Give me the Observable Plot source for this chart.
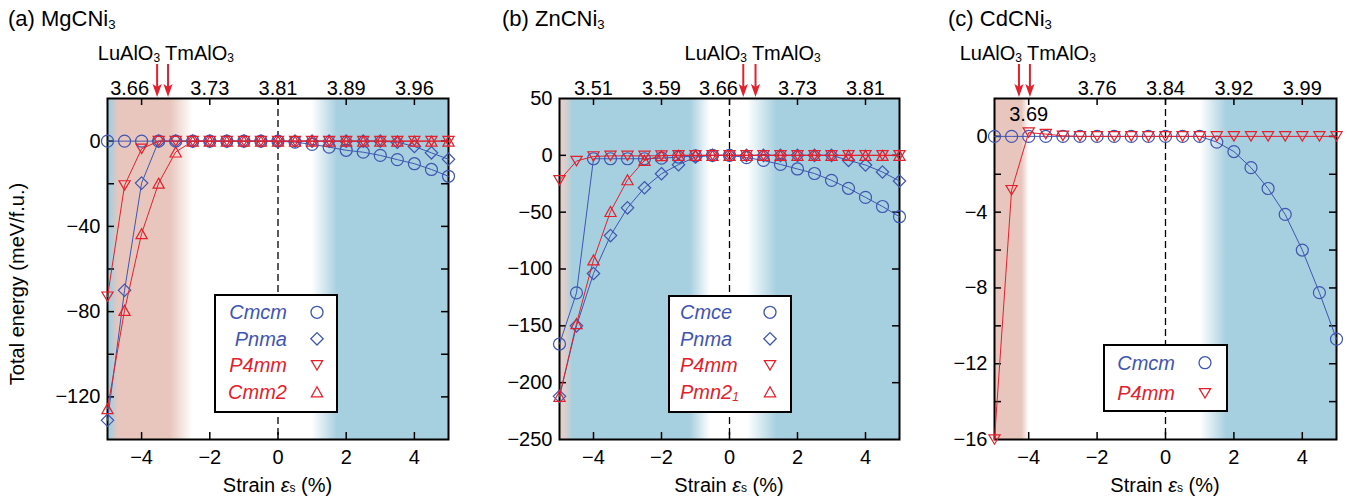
<!DOCTYPE html>
<html>
<head>
<meta charset="utf-8">
<script src="https://cdn.jsdelivr.net/npm/d3@7"></script>
<script src="https://cdn.jsdelivr.net/npm/@observablehq/plot@0.6"></script>
<style>
  body { margin: 0; background: #fff; }
  #chart { position: relative; width: 1347px; height: 498px; background: #fff; }
  #chart svg { position: absolute; top: 0; overflow: visible; }
</style>
</head>
<body>
<div id="chart"></div>
<script>
// Strain grid (%), shared by all three compounds
const strain = [-5, -4.5, -4, -3.5, -3, -2.5, -2, -1.5, -1, -0.5, 0, 0.5, 1, 1.5, 2, 2.5, 3, 3.5, 4, 4.5, 5];

// (a) MgCNi3 total energies (meV/f.u.)
const mgCmcm = [0, 0, 0, 0, 0, 0, 0, 0, 0, 0, 0, -0.5, -1.5, -2.8, -4.3, -5.2, -6.7, -8.7, -10.6, -13.3, -16.5];
const mgPnma = [-131, -70, -19.7, 0, 0, 0, 0, 0, 0, 0, 0, 0, 0, 0, 0, 0, 0, -0.5, -2.5, -5.5, -8.5];
const mgP4mm = [-73, -20.8, -3.6, 0, 0, 0, 0, 0, 0, 0, 0, 0, 0, 0, 0, 0, 0, 0, 0, 0, 0];
const mgCmm2 = [-125.5, -79.4, -43.4, -19.7, -5.1, 0, 0, 0, 0, 0, 0, 0, 0, 0, 0, 0, 0, 0, 0, 0, 0];

// (b) ZnCNi3 total energies (meV/f.u.)
const znCmce = [-166, -121, -3, -3, -3, -3, -2.5, -1.5, -0.5, 0, 0, -2, -4.5, -8, -12, -16, -22, -29, -37, -45, -54];
const znPnma = [-212, -150, -104, -70.6, -46.2, -28.5, -16.2, -8.2, -1.5, 0, 0, 0, 0, 0, 0, 0, 0, -4.4, -8.5, -14.7, -22.6];
const znP4mm = [-22, -5, -1, -0.5, -0.5, -0.5, -0.3, 0, 0, 0, 0, 0, 0, 0, 0, 0, 0, 0, 0, 0, 0];
const znPmn21 = [-212, -148, -92, -49.4, -21.5, -4.4, -0.3, 0, 0, 0, 0, 0, 0, 0, 0, 0, 0, 0, 0, 0, 0];

// (c) CdCNi3 total energies (meV/f.u.)
const cdCmcm = [0, 0, 0, 0, 0, 0, 0, 0, 0, 0, 0, 0, 0, -0.3, -0.8, -1.65, -2.75, -4.12, -6.0, -8.25, -10.7];
const cdP4mm = [-16, -2.84, 0.2, 0.12, 0.03, 0, 0, 0, 0, 0, 0, 0, 0, 0, 0, 0, 0, 0, 0, 0, 0];

// Axis ticks and labels (top axis: lattice parameter in Å)
const xTicks = [-4, -2, 0, 2, 4];
const topLabelsA = ["3.66", "3.73", "3.81", "3.89", "3.96"];
const topLabelsB = ["3.51", "3.59", "3.66", "3.73", "3.81"];
const topLabelsC = ["3.69", "3.76", "3.84", "3.92", "3.99"];
const yLabelsA = [0, -40, -80, -120];
const yTicksA = [0, -20, -40, -60, -80, -100, -120];
const yLabelsB = [50, 0, -50, -100, -150, -200, -250];
const yTicksB = [0, -50, -100, -150, -200];
const yLabelsC = [0, -4, -8, -12, -16];
const yTicksC = [0, -2, -4, -6, -8, -10, -12, -14];

// Substrate strains (%) for LuAlO3 and TmAlO3
const substratesA = [-3.53, -3.21];
const substratesB = [0.42, 0.78];
const substratesC = [-4.27, -3.95];

const FONT = '"Liberation Sans", Arial, Helvetica, sans-serif';
const BLUE = "#3f56b0";
const RED = "#e4202c";
const SKY = "#a6cfdf";
const ROSE = "#e8c6bd";
const GREYROSE = "#e0cfcb";
const WHITE = "#ffffff";

const H = 498, MT = 98, MB = 59;

const fmt = (d) => (d < 0 ? "\u2212" + Math.abs(d) : String(d));

// Hollow marker shapes
const unit = (size) => Math.sqrt(size / Math.PI) / 6;
const symCircle = { draw(c, size) { const r = 6 * unit(size); c.moveTo(r, 0); c.arc(0, 0, r, 0, 2 * Math.PI); } };
const symDiamond = { draw(c, size) { const k = 6.2 * unit(size); c.moveTo(0, -k); c.lineTo(k, 0); c.lineTo(0, k); c.lineTo(-k, 0); c.closePath(); } };
const symDown = { draw(c, size) { const u = unit(size), w = 5.6 * u, h = 4.7 * u; c.moveTo(-w, -h); c.lineTo(w, -h); c.lineTo(0, h); c.closePath(); } };
const symUp = { draw(c, size) { const u = unit(size), w = 5.6 * u, h = 5 * u; c.moveTo(0, -h); c.lineTo(w, h); c.lineTo(-w, h); c.closePath(); } };

// Text with italic / subscript runs
function rich(sel, parts, size) {
  let shift = 0;
  for (const p of parts) {
    const [t, kind] = Array.isArray(p) ? p : [p, null];
    const ts = sel.append("tspan").text(t);
    const target = kind === "sub" ? size * 0.12 : kind === "sub0" ? size * 0.04 : 0;
    if (target !== shift) { ts.attr("dy", target - shift); shift = target; }
    if (kind === "sub" || kind === "sub0") ts.attr("font-size", size * 0.6);
    if (kind === "it") ts.attr("font-style", "italic");
  }
  return sel;
}

// Background strain windows as a horizontal gradient across the frame
function shade(id, stops) {
  return (index, { x }, values, dim) => {
    const g = d3.create("svg:g");
    const x0 = x(-5), x1 = x(5);
    const grad = g.append("defs").append("linearGradient")
      .attr("id", id).attr("gradientUnits", "userSpaceOnUse")
      .attr("x1", x0).attr("x2", x1).attr("y1", 0).attr("y2", 0);
    for (const [at, color] of stops) {
      grad.append("stop").attr("offset", (x(at) - x0) / (x1 - x0)).attr("stop-color", color);
    }
    g.append("rect")
      .attr("x", x0).attr("y", dim.marginTop)
      .attr("width", x1 - x0).attr("height", dim.height - dim.marginTop - dim.marginBottom)
      .attr("fill", `url(#${id})`);
    return g.node();
  };
}

// Substrate arrows with their names above the frame
function substrateArrows(at) {
  return (index, { x }, values, dim) => {
    const g = d3.create("svg:g");
    const top = dim.marginTop - 1;
    for (const s of at) {
      const px = x(s);
      g.append("line").attr("x1", px).attr("x2", px).attr("y1", top - 33).attr("y2", top - 9)
        .attr("stroke", RED).attr("stroke-width", 2);
      g.append("path")
        .attr("d", `M${px},${top} L${px - 4.6},${top - 13} L${px},${top - 10} L${px + 4.6},${top - 13} Z`)
        .attr("fill", RED);
    }
    const mid = (x(at[0]) + x(at[1])) / 2;
    const base = 59.5;
    rich(g.append("text").attr("x", mid - 2.5).attr("y", base).attr("text-anchor", "end")
      .attr("font-size", 20).attr("fill", "black"), ["LuAlO", ["3", "sub"]], 20);
    rich(g.append("text").attr("x", mid + 2.5).attr("y", base).attr("text-anchor", "start")
      .attr("font-size", 20).attr("fill", "black"), ["TmAlO", ["3", "sub"]], 20);
    return g.node();
  };
}

// Panel title, x-axis title and optional y-axis title
function titles(title, titleX, withY) {
  return (index, scales, values, dim) => {
    const g = d3.create("svg:g").attr("fill", "black");
    rich(g.append("text").attr("x", titleX).attr("y", 26).attr("text-anchor", "start").attr("font-size", 22), title, 22);
    const cx = (dim.marginLeft + dim.width - dim.marginRight) / 2;
    rich(g.append("text").attr("x", cx).attr("y", 491.5).attr("text-anchor", "middle").attr("font-size", 20),
      ["Strain ", ["\u03b5", "it"], ["s", "sub0"], " (%)"], 20);
    if (withY) {
      g.append("text").attr("transform", "translate(24,284) rotate(-90)")
        .attr("text-anchor", "middle").attr("font-size", 20).text("Total energy (meV/f.u.)");
    }
    return g.node();
  };
}

// Boxed legend placed relative to the frame's top-left corner
function legend(box, entries) {
  return (index, scales, values, dim) => {
    const ox = dim.marginLeft, oy = dim.marginTop;
    const g = d3.create("svg:g");
    g.append("rect").attr("x", ox + box.x).attr("y", oy + box.y).attr("width", box.w).attr("height", box.h)
      .attr("fill", "white").attr("stroke", "black").attr("stroke-width", 2);
    entries.forEach((e, i) => {
      const cy = oy + box.row0 + i * box.step;
      rich(g.append("text").attr("x", ox + box.textX).attr("y", cy + 7).attr("text-anchor", box.anchor)
        .attr("font-size", 20).attr("font-style", "italic").attr("fill", e.color), e.label, 20);
      g.append("path").attr("transform", `translate(${ox + box.markX},${cy})`)
        .attr("d", d3.symbol(e.symbol, 36 * Math.PI)())
        .attr("fill", "none").attr("stroke", e.color).attr("stroke-width", 1.3);
    });
    return g.node();
  };
}

function seriesMarks(values, color, symbol) {
  const rows = strain.map((s, i) => ({ s, e: values[i] }));
  return [
    Plot.line(rows, { x: "s", y: "e", stroke: color, strokeWidth: 1 }),
    Plot.dot(rows, { x: "s", y: "e", r: 6, symbol, stroke: color, strokeWidth: 1.2, fill: "none" })
  ];
}

function panel(cfg) {
  const fw = cfg.width - cfg.marginLeft - cfg.marginRight;
  const fh = H - MT - MB;
  const tick = 7;
  const topTicks = cfg.topInside ? xTicks.filter((d) => d !== cfg.topInside) : xTicks;
  const marks = [
    shade("shade-" + cfg.id, cfg.shade),
    Plot.ruleX([0], { x: (d) => d, stroke: "black", strokeWidth: 1.3, strokeDasharray: "7,4" }),
    Plot.frame({ stroke: "black", strokeWidth: 2 }),
    Plot.ruleX(xTicks, { x: (d) => d, insetTop: fh - tick, stroke: "black", strokeWidth: 1.5 }),
    Plot.ruleX(xTicks, { x: (d) => d, insetBottom: fh - tick, stroke: "black", strokeWidth: 1.5 }),
    Plot.ruleY(cfg.yTicks, { y: (d) => d, insetRight: fw - tick, stroke: "black", strokeWidth: 1.5 }),
    Plot.ruleY(cfg.yTicks, { y: (d) => d, insetLeft: fw - tick, stroke: "black", strokeWidth: 1.5 }),
    ...cfg.series.flatMap((s) => seriesMarks(s.values, s.color, s.symbol)),
    Plot.text(xTicks, { x: (d) => d, text: (d) => fmt(d), frameAnchor: "bottom", dy: 18.5, lineAnchor: "middle", fontSize: 20, fill: "black" })
  ];
  // top labels; the one next to the substrate arrows is nudged aside
  for (const d of topTicks) {
    const i = xTicks.indexOf(d);
    marks.push(Plot.text([d], { x: (v) => v, text: () => cfg.topLabels[i], frameAnchor: "top", dy: -9.5, dx: (cfg.topNudge && cfg.topNudge[0] === d) ? cfg.topNudge[1] : 0, lineAnchor: "middle", fontSize: 20, fill: "black" }));
  }
  marks.push(
    Plot.text(cfg.yLabels, { y: (d) => d, text: (d) => fmt(d), frameAnchor: "left", dx: -7, textAnchor: "end", lineAnchor: "middle", fontSize: 20, fill: "black" }),
    titles(cfg.title, cfg.titleX, cfg.withY),
    legend(cfg.legendBox, cfg.series),
    substrateArrows(cfg.substrates)
  );
  if (cfg.topInside) {
    marks.push(Plot.text([cfg.topInside], { x: (d) => d, text: () => cfg.topLabels[xTicks.indexOf(cfg.topInside)], frameAnchor: "top", dy: 16, lineAnchor: "middle", fontSize: 20, fill: "black" }));
  }
  const svg = Plot.plot({
    width: cfg.width, height: H,
    marginTop: MT, marginBottom: MB, marginLeft: cfg.marginLeft, marginRight: cfg.marginRight,
    x: { domain: [-5, 5], axis: null },
    y: { domain: cfg.yDomain, axis: null },
    style: { background: "transparent", overflow: "visible", fontFamily: FONT, fontSize: "20px", color: "black" },
    marks
  });
  svg.style.left = cfg.left + "px";
  document.getElementById("chart").append(svg);
}

panel({
  id: "a", left: 0, width: 470, marginLeft: 107, marginRight: 22,
  yDomain: [-140, 20], yLabels: yLabelsA, yTicks: yTicksA, topLabels: topLabelsA, topNudge: [-4, -12],
  title: ["(a) MgCNi", ["3", "sub"]], titleX: 8, withY: true,
  substrates: substratesA,
  shade: [[-5, SKY], [-4.92, SKY], [-4.68, ROSE], [-3.15, ROSE], [-2.5, WHITE], [1.0, WHITE], [1.75, SKY], [5, SKY]],
  legendBox: { x: 108, y: 197, w: 122, h: 117, textX: 180, anchor: "end", markX: 210, row0: 214.3, step: 26.5 },
  series: [
    { label: ["Cmcm"], values: mgCmcm, color: BLUE, symbol: symCircle },
    { label: ["Pnma"], values: mgPnma, color: BLUE, symbol: symDiamond },
    { label: ["P4mm"], values: mgP4mm, color: RED, symbol: symDown },
    { label: ["Cmm2"], values: mgCmm2, color: RED, symbol: symUp }
  ]
});

panel({
  id: "b", left: 470, width: 450, marginLeft: 89, marginRight: 21,
  yDomain: [-250, 50], yLabels: yLabelsB, yTicks: yTicksB, topLabels: topLabelsB, topNudge: [0, -11],
  title: ["(b) ZnCNi", ["3", "sub"]], titleX: 32, withY: false,
  substrates: substratesB,
  shade: [[-5, GREYROSE], [-4.85, GREYROSE], [-4.6, SKY], [-1.15, SKY], [-0.56, WHITE], [0.53, WHITE], [1.41, SKY], [5, SKY]],
  legendBox: { x: 110, y: 198, w: 122, h: 116, textX: 121, anchor: "start", markX: 211, row0: 214.3, step: 26.5 },
  series: [
    { label: ["Cmce"], values: znCmce, color: BLUE, symbol: symCircle },
    { label: ["Pnma"], values: znPnma, color: BLUE, symbol: symDiamond },
    { label: ["P4mm"], values: znP4mm, color: RED, symbol: symDown },
    { label: ["Pmn2", ["1", "sub"]], values: znPmn21, color: RED, symbol: symUp }
  ]
});

panel({
  id: "c", left: 920, width: 427, marginLeft: 74, marginRight: 11,
  yDomain: [-16, 2], yLabels: yLabelsC, yTicks: yTicksC, topLabels: topLabelsC, topInside: -4,
  title: ["(c) CdCNi", ["3", "sub"]], titleX: 28, withY: false,
  substrates: substratesC,
  shade: [[-5, ROSE], [-4.2, ROSE], [-3.98, WHITE], [1.02, WHITE], [1.8, SKY], [5, SKY]],
  legendBox: { x: 110, y: 247, w: 123, h: 66, textX: 181, anchor: "end", markX: 211, row0: 264.7, step: 30.6 },
  series: [
    { label: ["Cmcm"], values: cdCmcm, color: BLUE, symbol: symCircle },
    { label: ["P4mm"], values: cdP4mm, color: RED, symbol: symDown }
  ]
});
</script>
</body>
</html>
